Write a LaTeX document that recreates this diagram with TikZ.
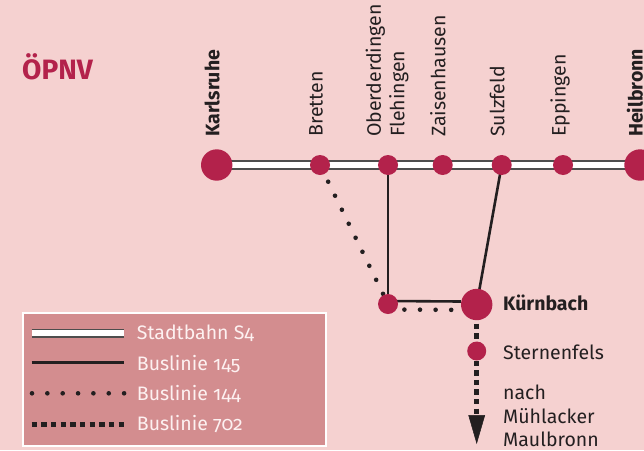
\documentclass[tikz,border=0pt]{standalone}
\usepackage{fontspec}
\setmainfont{Fira Sans}[Numbers=OldStyle]
\usepackage{tikz}
\usetikzlibrary{arrows.meta, backgrounds}
\definecolor{crimson}{HTML}{B3224B}
\definecolor{bgpink}{HTML}{F5D1D0}
\definecolor{keypink}{HTML}{D38D8F}
\definecolor{ink}{HTML}{231F20}
\definecolor{railgray}{HTML}{4D4D4D}
\definecolor{keywhite}{HTML}{FDF1F1}
\newcommand{\mapfont}{\fontsize{19.5}{23.5}\selectfont}

\tikzset{
  station/.style={circle, fill=crimson, inner sep=0pt, minimum size=20pt},
  hub/.style={station, minimum size=31.4pt},
  stopname/.style={rotate=90, anchor=mid west, inner sep=0pt, text=ink, font=\mapfont},
  placename/.style={anchor=base west, inner sep=0pt, text=ink, font=\mapfont},
  keytext/.style={anchor=base west, inner sep=0pt, text=keywhite, font=\mapfont},
  sbahn/.style={draw=railgray, line width=1.8pt, double=white, double distance=6pt},
  bus145/.style={draw=ink, line width=2.6pt},
  bus144/.style={draw=ink, line width=4.6pt, line cap=round, dash pattern=on 0pt off 15.6pt},
  bus702/.style={draw=ink, line width=5pt, dash pattern=on 5.3pt off 4.3pt}
}

\begin{document}
\begin{tikzpicture}[x=1pt, y=-1pt]
    \useasboundingbox (0,0) rectangle (644,450);

    % Title
    \node[anchor=base west, inner sep=0pt, text=crimson, font=\fontsize{28}{32}\selectfont\bfseries] (titel) at (22,79.3) {ÖPNV};

    % Stations on the S4
    \node[hub] (karlsruhe) at (216.7,165) {};
    \node[station] (bretten) at (320,165) {};
    \node[station] (oberderdingen) at (388,165) {};
    \node[station] (zaisenhausen) at (442.7,165) {};
    \node[station] (sulzfeld) at (501.7,165) {};
    \node[station] (eppingen) at (563,165) {};
    \node[hub] (heilbronn) at (640,165) {};

    % Station names (rotated)
    \node[stopname, font=\mapfont\bfseries] (lblkarlsruhe) at (216.7,137) {Karlsruhe};
    \node[stopname] (lblbretten) at (320,137) {Bretten};
    \node[stopname, anchor=west, align=left] (lbloberderdingen) at (387,137) {Oberderdingen\\Flehingen};
    \node[stopname] (lblzaisenhausen) at (442.7,137) {Zaisenhausen};
    \node[stopname] (lblsulzfeld) at (501.7,137) {Sulzfeld};
    \node[stopname] (lbleppingen) at (563,137) {Eppingen};
    \node[stopname, font=\mapfont\bfseries] (lblheilbronn) at (640,137) {Heilbronn};

    % Bus stops below
    \node[station] (abzweig) at (388,304) {};
    \node[hub] (kuernbach) at (476.7,304.5) {};
    \node[station, minimum size=19pt] (sternenfels) at (476.7,351) {};
    \coordinate (nach) at (476.7,444);

    \node[placename, font=\mapfont\bfseries] (lblkuernbach) at (503,310.7) {Kürnbach};
    \node[placename] (lblsternenfels) at (503,359) {Sternenfels};
    \node[placename, anchor=north west, align=left] (lblnach) at (503,384.8) {nach\\Mühlacker\\Maulbronn};

    % Lines behind the stations
    \begin{scope}[on background layer]
        \fill[bgpink] (0,0) rectangle (644,450);
        \draw[sbahn] (karlsruhe.center) -- (heilbronn.center);
        \draw[bus145] (oberderdingen.center) -- (abzweig.center);
        \draw[bus145] ([yshift=3pt]abzweig.center) -- ([yshift=3pt]kuernbach.west);
        \draw[bus145] (sulzfeld.center) -- (kuernbach.center);
        \draw[bus144, dash phase=12.6pt] (bretten.center) -- (abzweig.center);
        \draw[bus144, dash phase=14.8pt] ([yshift=-5.5pt]abzweig.center) -- ([yshift=-5.5pt]kuernbach.center);
        \draw[bus702] (kuernbach.center) -- (sternenfels.center);
        \draw[bus702, -{Triangle[width=16.7pt, length=29pt, line width=0.5pt]}] (sternenfels.center) -- (nach);
    \end{scope}

    % Legend
    \node[draw=white, line width=2pt, fill=keypink, anchor=north west, inner sep=0pt,
          minimum width=303pt, minimum height=132.7pt] (legende) at (22,312.3) {};
    \draw[sbahn] (31.7,333.3) -- (124,333.3);
    \draw[bus145] (31.7,362.7) -- (124,362.7);
    \draw[bus144, dash pattern=on 0pt off 15.35pt] (32,393.3) -- (124.5,393.3);
    \draw[bus702, dash pattern=on 5.3pt off 4.36pt] (31.7,424) -- (124.5,424);
    \node[keytext] (keys4) at (136.7,339) {Stadtbahn S4};
    \node[keytext] (key145) at (136.7,370) {Buslinie 145};
    \node[keytext] (key144) at (136.7,400) {Buslinie 144};
    \node[keytext] (key702) at (136.7,430) {Buslinie 702};
\end{tikzpicture}
\end{document}
